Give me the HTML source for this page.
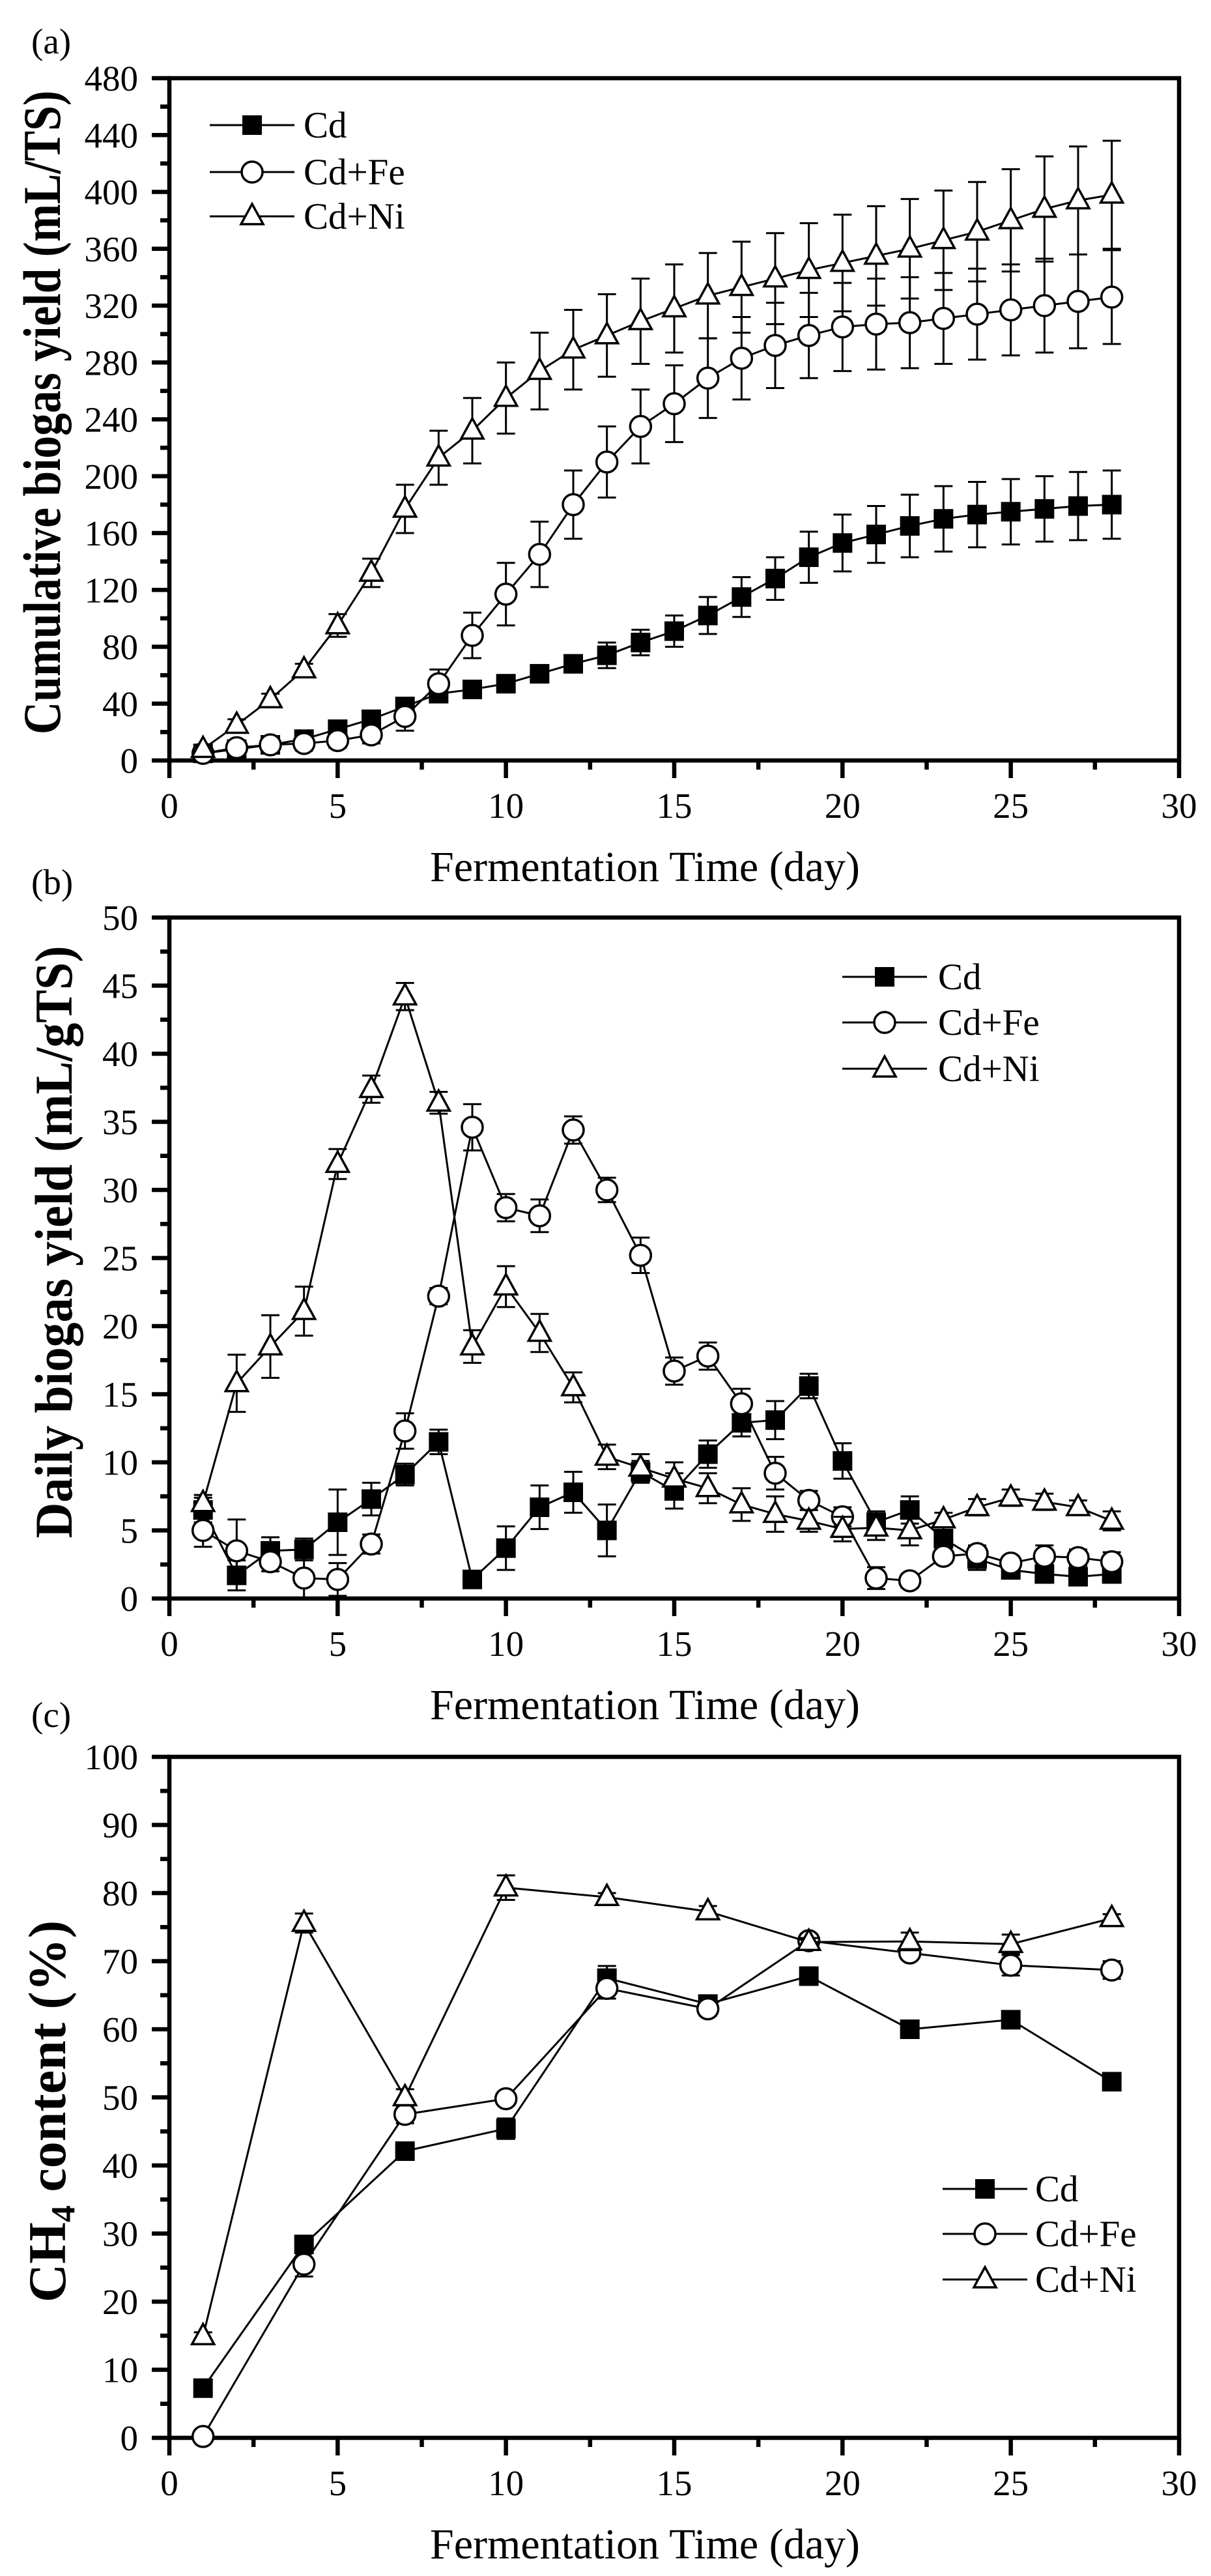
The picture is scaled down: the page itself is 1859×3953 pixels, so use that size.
<!DOCTYPE html>
<html><head><meta charset="utf-8">
<style>
html,body{margin:0;padding:0;background:#fff;}
svg{display:block;}
text{font-family:"Liberation Serif","Times New Roman",serif;fill:#000;}
</style></head>
<body>
<svg id="fig" xmlns="http://www.w3.org/2000/svg" width="1859" height="3953" viewBox="0 0 1859 3953">
<rect x="0" y="0" width="1859" height="3953" fill="#fff"/>
</svg>
<script>
// ---------- data ----------
const daysDaily = [1,2,3,4,5,6,7,8,9,10,11,12,13,14,15,16,17,18,19,20,21,22,23,24,25,26,27,28];
const cumCd   = [5,8,11,15,22,29,38,47,50,54,61,68,74,83,91,102,115,128,143,153,159,165,170,173,175,177,179,180];
const cumCdErr= [2,3,3,4,4,5,5,4,3,4,4,4,9,9,11,13,14,15,18,20,20,22,23,23,23,23,24,24];
const cumFe   = [5,9,11,12,14,18,31,54,88,117,145,180,210,235,251,269,283,292,299,305,307,308,311,314,317,320,323,326];
const cumFeErr= [3,4,4,5,5,6,10,10,16,22,23,24,25,26,27,28,29,30,30,31,32,32,32,32,32,33,33,33];
const cumNi   = [8,25,43,64,95,132,177,213,232,255,274,289,299,309,318,327,333,339,345,350,355,360,366,372,380,388,394,398];
const cumNiErr= [3,4,4,4,8,10,17,19,23,25,27,28,29,30,31,30,32,32,33,34,35,35,35,35,36,37,38,38];

const dayCd   = [6.5,1.7,3.5,3.6,5.6,7.3,9.1,11.5,1.4,3.7,6.7,7.8,5.0,9.3,7.9,10.6,12.9,13.1,15.6,10.1,5.6,6.5,4.4,2.9,2.1,1.8,1.6,1.8];
const dayCdErr= [0.9,1.1,1,0.8,2.4,1.2,0.8,0.9,0.4,1.6,1.6,1.5,1.9,0.8,1.3,1,1,1.4,0.9,1.3,0.8,1,0.9,0.8,0.6,0.5,0.4,0.5];
const dayFe   = [5.0,3.5,2.7,1.5,1.4,4.0,12.3,22.2,34.6,28.7,28.1,34.4,30.0,25.2,16.7,17.8,14.3,9.2,7.2,6.0,1.5,1.3,3.1,3.3,2.6,3.1,3.0,2.7];
const dayFeErr= [1.2,2.3,0.7,1.5,1.2,0.7,1.3,0.6,1.7,1,1.2,1,0.9,1.3,1,1,1.1,1.2,0.7,0.7,0.8,0.5,0.5,0.6,0.5,0.8,0.6,0.7];
const dayNi   = [7.0,15.8,18.5,21.1,31.9,37.4,44.2,36.4,18.5,22.9,19.5,15.5,10.4,9.6,8.8,8.1,6.9,6.2,5.7,5.1,5.2,5.0,5.8,6.7,7.4,7.1,6.7,5.7];
const dayNiErr= [0.6,2.1,2.3,1.8,1.1,1,1,0.8,1.2,1.5,1.4,1.1,0.9,1,1.2,1.1,1.2,1.3,0.8,0.9,0.9,1.1,0.5,0.6,0.6,0.6,0.5,0.7];

const daysCH4 = [1,4,7,10,13,16,19,22,25,28];
const ch4Cd   = [7.3,28.4,42.1,45.4,67.5,63.7,67.8,60.0,61.4,52.3];
const ch4CdErr= [0.8,1,0.8,1.5,1.8,0.8,0.8,0.6,0.8,0.8];
const ch4Fe   = [0.2,25.5,47.5,49.8,66.0,63.0,73.0,71.2,69.4,68.7];
const ch4FeErr= [0.5,1.8,1.3,0.9,1.5,1,1,0.6,1.5,1.3];
const ch4Ni   = [14.9,75.6,50.0,80.8,79.4,77.3,72.8,72.9,72.5,76.3];
const ch4NiErr= [0.6,1.4,1.2,1.8,0.6,0.8,0.6,1.3,1.4,0.6];

const xTicks = [0,5,10,15,20,25,30];
const yTicksA = [0,40,80,120,160,200,240,280,320,360,400,440,480];
const yTicksB = [0,5,10,15,20,25,30,35,40,45,50];
const yTicksC = [0,10,20,30,40,50,60,70,80,90,100];
const seriesNames = ["Cd","Cd+Fe","Cd+Ni"];

// ---------- drawing ----------
const NS = "http://www.w3.org/2000/svg";
const svg = document.getElementById("fig");
function mk(tag, parent, attrs){
  const e = document.createElementNS(NS, tag);
  for (const k in attrs) e.setAttribute(k, attrs[k]);
  parent.appendChild(e);
  return e;
}
const X0 = 260, X1 = 1810;
function xs(v){ return X0 + (v/30)*(X1-X0); }

function marker(g, kind, cx, cy){
  let m;
  if (kind === 0){
    m = mk("rect", g, {x:cx-15, y:cy-15, width:30, height:30, fill:"#000"});
    
  } else if (kind === 1){
    m = mk("circle", g, {cx:cx, cy:cy, r:16, fill:"#fff", stroke:"#000", "stroke-width":3.5});
    
  } else {
    m = mk("polygon", g, {points:`${cx},${cy-19} ${cx-17},${cy+12} ${cx+17},${cy+12}`, fill:"#fff", stroke:"#000", "stroke-width":3.5});
    
  }
  
}

function panel(p){
  const g = mk("g", svg, {});
  
  
  const ys = v => p.yb - (v - 0)/(p.ymax)*(p.yb - p.yt);
  xTicks.forEach(t => {
    const tk = mk("line", g, {x1:xs(t), x2:xs(t), y1:p.yb, y2:p.yb+27, stroke:"#000","stroke-width":6.5});
    
    
    const lb = mk("text", g, {x:xs(t), y:p.yb+88, "font-size":55, "text-anchor":"middle"});
    lb.textContent = t;
    
    
    if (t < 30){
      const mt = mk("line", g, {x1:xs(t+2.5), x2:xs(t+2.5), y1:p.yb, y2:p.yb+14, stroke:"#000","stroke-width":6.5});
      
      
    }
  });
  p.yticks.forEach((t,i) => {
    const tk = mk("line", g, {x1:X0-27, x2:X0, y1:ys(t), y2:ys(t), stroke:"#000","stroke-width":6.5});
    
    
    const lb = mk("text", g, {x:212, y:ys(t)+19, "font-size":55, "text-anchor":"end"});
    lb.textContent = t;
    
    
    if (i < p.yticks.length-1){
      const mv = (t + p.yticks[i+1])/2;
      const mt = mk("line", g, {x1:X0-14, x2:X0, y1:ys(mv), y2:ys(mv), stroke:"#000","stroke-width":6.5});
      
      
    }
  });
  const fr = mk("rect", g, {x:X0, y:p.yt, width:X1-X0, height:p.yb-p.yt, fill:"none", stroke:"#000","stroke-width":6.5});
  
  
  p.series.forEach((s, k) => {
    const sg = mk("g", g, {});
    
    
    const pts = p.x.map((d,i) => xs(d)+","+ys(s.v[i])).join(" ");
    const ln = mk("polyline", sg, {points:pts, fill:"none", stroke:"#000","stroke-width":3});
    
    
    p.x.forEach((d,i) => {
      const cx = xs(d), hi = ys(s.v[i]+s.e[i]), lo = ys(Math.max(0,s.v[i]-s.e[i]));
      const eb = mk("path", sg, {d:`M${cx},${hi}V${lo}M${cx-14},${hi}H${cx+14}M${cx-14},${lo}H${cx+14}`, stroke:"#000","stroke-width":3, fill:"none"});
      
      
    });
    p.x.forEach((d,i) => marker(sg, k, xs(d), ys(s.v[i])));
  });
  const lg = mk("g", g, {});
  
  
  seriesNames.forEach((n,k) => {
    const y = p.leg.ys[k];
    const ll = mk("line", lg, {x1:p.leg.x1, x2:p.leg.x2, y1:y, y2:y, stroke:"#000","stroke-width":3});
    
    
    marker(lg, k, (p.leg.x1+p.leg.x2)/2, y);
    const t = mk("text", lg, {x:p.leg.tx, y:y+19, "font-size":57});
    t.textContent = n;
    
    
  });
  const xt = mk("text", g, {x:990, y:p.yb+185, "font-size":66, "text-anchor":"middle"});
  xt.textContent = "Fermentation Time (day)";
  
  
  const pl = mk("text", g, {x:48, y:p.labY, "font-size":55});
  pl.textContent = p.label;
  
  
  return {g, ys};
}

const pa = panel({name:"panel-a-cumulative", yt:120, yb:1167, ymax:480, yticks:yTicksA, x:daysDaily,
  series:[{v:cumCd,e:cumCdErr},{v:cumFe,e:cumFeErr},{v:cumNi,e:cumNiErr}],
  leg:{x1:322,x2:452,tx:466,ys:[192,264,332]}, label:"(a)", labY:82});
const ta = mk("text", pa.g, {transform:"translate(92,633) rotate(-90)", "font-size":82, "font-weight":"bold", "text-anchor":"middle", textLength:988, lengthAdjust:"spacingAndGlyphs"});
ta.textContent = "Cumulative biogas yield (mL/TS)";



const pb = panel({name:"panel-b-daily", yt:1408, yb:2453, ymax:50, yticks:yTicksB, x:daysDaily,
  series:[{v:dayCd,e:dayCdErr},{v:dayFe,e:dayFeErr},{v:dayNi,e:dayNiErr}],
  leg:{x1:1293,x2:1423,tx:1440,ys:[1499,1569,1640]}, label:"(b)", labY:1372});
const tb = mk("text", pb.g, {transform:"translate(110,1906) rotate(-90)", "font-size":82, "font-weight":"bold", "text-anchor":"middle", textLength:909, lengthAdjust:"spacingAndGlyphs"});
tb.textContent = "Daily biogas yield (mL/gTS)";



const pc = panel({name:"panel-c-ch4", yt:2696, yb:3741, ymax:100, yticks:yTicksC, x:daysCH4,
  series:[{v:ch4Cd,e:ch4CdErr},{v:ch4Fe,e:ch4FeErr},{v:ch4Ni,e:ch4NiErr}],
  leg:{x1:1447,x2:1577,tx:1589,ys:[3359,3428,3498]}, label:"(c)", labY:2650});
const tc = mk("text", pc.g, {transform:"translate(100,3240) rotate(-90)", "font-size":82, "font-weight":"bold", "text-anchor":"middle"});


const t1 = mk("tspan", tc, {}); t1.textContent = "CH";
const t2 = mk("tspan", tc, {"font-size":52, dy:14}); t2.textContent = "4";
const t3 = mk("tspan", tc, {dy:-14}); t3.textContent = " content (%)";
</script>
</body></html>
